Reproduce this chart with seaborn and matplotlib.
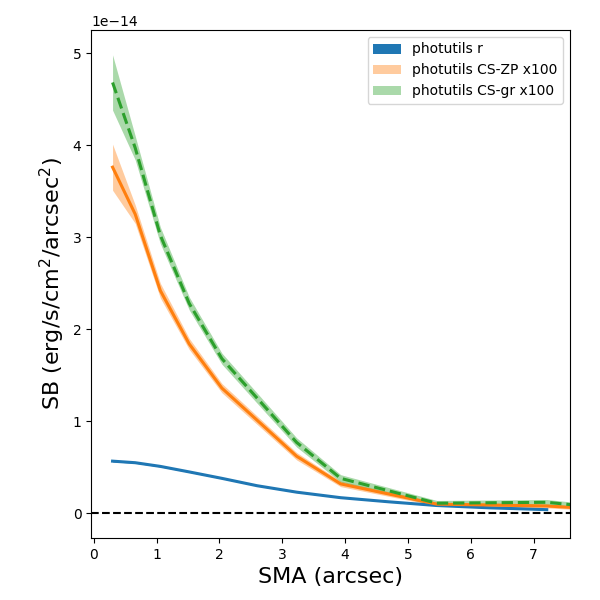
import matplotlib
matplotlib.use("Agg")
import matplotlib.pyplot as plt
import seaborn as sns
import numpy as np
import pandas as pd

# SMA values (arcsec)
sma_r = [0.30, 0.66, 1.06, 1.52, 2.04, 2.60, 3.23, 3.93, 4.70, 5.46, 6.30, 7.21]
sb_r = [0.567, 0.55, 0.51, 0.45, 0.38, 0.30, 0.23, 0.17, 0.125, 0.085, 0.06, 0.04]
err_r = [0.008, 0.006, 0.006, 0.005, 0.005, 0.004, 0.004, 0.003, 0.003, 0.003, 0.003, 0.003]

sma_cs = [0.30, 0.66, 1.06, 1.52, 2.04, 3.23, 3.93, 5.46, 7.21, 7.95]
sb_zp = [3.76, 3.25, 2.42, 1.84, 1.36, 0.62, 0.32, 0.10, 0.08, 0.05]
err_zp = [0.25, 0.10, 0.08, 0.06, 0.05, 0.04, 0.03, 0.02, 0.02, 0.02]
sb_gr = [4.68, 3.97, 3.02, 2.28, 1.68, 0.77, 0.38, 0.11, 0.12, 0.07]
err_gr = [0.30, 0.13, 0.09, 0.07, 0.06, 0.05, 0.04, 0.03, 0.03, 0.03]

scale = 1e-14
labels = ["photutils r", "photutils CS-ZP x100", "photutils CS-gr x100"]
colors = ["#1f77b4", "#ff7f0e", "#2ca02c"]

fig, ax = plt.subplots(figsize=(6, 6), dpi=100)
fig.subplots_adjust(left=0.152, right=0.95, top=0.95, bottom=0.103)

series = [
    (sma_r, sb_r, err_r, labels[0], colors[0], "-", 1.0),
    (sma_cs, sb_zp, err_zp, labels[1], colors[1], "-", 0.4),
    (sma_cs, sb_gr, err_gr, labels[2], colors[2], "--", 0.4),
]
for x, y, e, lab, c, ls, a in series:
    x = np.array(x); y = np.array(y) * scale; e = np.array(e) * scale
    df = pd.DataFrame({"x": x, "y": y})
    ax.fill_between(x, y - e, y + e, color=c, alpha=a, label=lab, linewidth=0)
    sns.lineplot(data=df, x="x", y="y", ax=ax, color=c, linestyle=ls,
                 linewidth=2.2, legend=False)

ax.axhline(0, color="k", linestyle="--", linewidth=1.5)
ax.set_xlim(-0.04, 7.58)
ax.set_ylim(-0.27e-14, 5.25e-14)
ax.set_xlabel("SMA (arcsec)", fontsize=16)
ax.set_ylabel("SB (erg/s/cm$^2$/arcsec$^2$)", fontsize=16)
ax.legend(loc="upper right", fontsize=10)
fig.savefig("out.png", dpi=100)
